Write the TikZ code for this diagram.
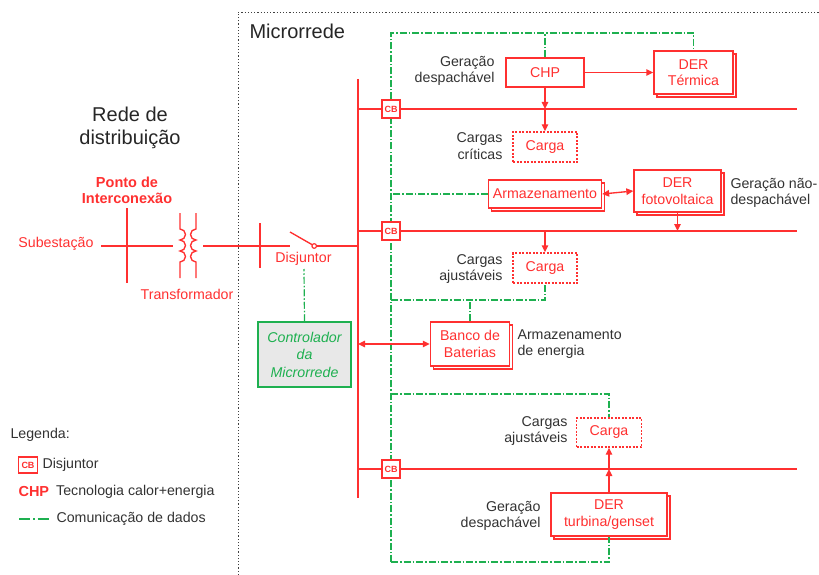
\documentclass[tikz,border=0pt]{standalone}
\usepackage{fontspec}
\setmainfont{Liberation Sans}
\usetikzlibrary{arrows.meta,shadows}
\definecolor{rd}{RGB}{255,48,48}
\definecolor{gn}{RGB}{30,176,80}
\definecolor{tx}{RGB}{50,50,50}
\definecolor{ctrlfill}{RGB}{232,232,232}
\newcommand{\nf}{\fontsize{14.2}{16.5}\selectfont}
\tikzset{
  every node/.style={font=\nf},
  wire/.style={draw=rd, line width=1.35pt},
  comm/.style={draw=gn, line width=1.2pt, dash pattern=on 7pt off 2pt on 1.5pt off 2pt},
  arr/.style={wire, -{Triangle[length=7pt,width=6.5pt]}},
  darr/.style={wire, {Triangle[length=7pt,width=6.5pt]}-{Triangle[length=7pt,width=6.5pt]}},
  redbox/.style={draw=rd, line width=1.35pt, fill=white, text=rd, align=center, inner sep=1pt},
  stackbox/.style={redbox, copy shadow={shadow xshift=3pt, shadow yshift=-3pt}},
  loadbox/.style={redbox, dash pattern=on 2pt off 1.5pt},
  cbbox/.style={draw=rd, line width=1.1pt, fill=white, text=rd, minimum width=18pt, minimum height=18pt, inner sep=0pt, font=\fontsize{9}{9}\bfseries\selectfont},
  ctrlbox/.style={draw=gn, line width=1.5pt, fill=ctrlfill, text=gn, align=center, inner sep=1pt, font=\fontsize{14.2}{17.5}\itshape\selectfont},
  lblr/.style={text=tx, align=right, anchor=east},
  lbll/.style={text=tx, align=left, anchor=west},
  redlbl/.style={text=rd, align=center},
}
\begin{document}
\begin{tikzpicture}[x=1pt,y=-1pt]
\useasboundingbox (0,0) rectangle (819,575);

% boundary of the microgrid
\draw[black!75, line width=0.9pt, dash pattern=on 1.2pt off 2pt] (238,575) -- (238,12) -- (819,12);

% titles
\node[align=center, text=black!85, font=\fontsize{20}{23}\selectfont] (rede) at (130,127.5) {Rede de\\distribuição};
\node[anchor=west, text=black!85, font=\fontsize{20}{23}\selectfont] (micro) at (246,31) {Microrrede};

% ---------------- boxes ----------------
\node[redbox, minimum width=78pt, minimum height=29pt] (chp) at (545,72.5) {CHP};
\node[stackbox, minimum width=79pt, minimum height=43pt] (dert) at (693.5,72.5) {DER\\Térmica};
\node[loadbox, minimum width=64pt, minimum height=30pt] (c1) at (545,147) {Carga};
\node[stackbox, minimum width=113pt, minimum height=28pt] (arm) at (545,194) {Armazenamento};
\node[stackbox, minimum width=87pt, minimum height=42pt] (pv) at (677.5,191) {DER\\fotovoltaica};
\node[loadbox, minimum width=64pt, minimum height=30pt] (c2) at (545,268) {Carga};
\node[stackbox, minimum width=79pt, minimum height=44pt] (bat) at (470,344) {Banco de\\Baterias};
\node[loadbox, minimum width=65pt, minimum height=29pt] (c3) at (609,432.5) {Carga};
\node[stackbox, minimum width=116pt, minimum height=43pt] (tur) at (609,514.5) {DER\\turbina/genset};
\node[ctrlbox, minimum width=93pt, minimum height=65pt] (ctl) at (304.5,354.5) {Controlador\\da\\Microrrede};

% ---------------- coordinates ----------------
\coordinate (gtop) at (391,33);
\coordinate (gbot) at (391,562);
\coordinate (g2) at (391,300);
\coordinate (g3) at (391,394);
\coordinate (disjc) at (304,269);
\coordinate (bustop) at (358,79);
\coordinate (busbot) at (358,498);
\coordinate (busmid) at (358,344);
\coordinate (f1l) at (358,109); \coordinate (f1r) at (797,109);
\coordinate (f2l) at (358,231); \coordinate (f2r) at (797,231);
\coordinate (f3l) at (358,469); \coordinate (f3r) at (797,469);
\coordinate (f1a) at (545,109);
\coordinate (f2a) at (545,231);
\coordinate (f3a) at (609,469);

% ---------------- communication ----------------
\draw[comm] (gbot) -- (gtop) -| (dert.north);
\draw[comm] (chp.north) -- (chp.north |- gtop);
\draw[comm] (arm.west) -- (arm.west -| gtop);
\draw[comm] (g2) -| (c2.south);
\draw[comm] (bat.north) -- (bat.north |- g2);
\draw[comm] (g3) -| (c3.north);
\draw[comm] (gbot) -| (tur.south);
\draw[comm] (ctl.north) -- (disjc);

% ---------------- power ----------------
\draw[wire] (bustop) -- (busbot);
\draw[wire] (f1l) -- (f1r);
\draw[wire] (f2l) -- (f2r);
\draw[wire] (f3l) -- (f3r);
\node[cbbox] (cb1) at (391,109) {CB};
\node[cbbox] (cb2) at (391,231) {CB};
\node[cbbox] (cb3) at (391,469) {CB};

\draw[arr] (chp.east) -- (dert.west);
\draw[arr] (chp.south) -- (f1a);
\draw[arr] (f1a) -- (c1.north);
\draw[darr] (arm.east) -- (pv.west);
\draw[arr] (pv.south) -- (pv.south |- f2r);
\draw[arr] (f2a) -- (c2.north);
\draw[darr] (busmid) -- (bat.west);
\draw[arr] (tur.north) -- (f3a);
\draw[arr] (f3a) -- (c3.south);

% ---------------- interconnection ----------------
\node[text=rd, anchor=east] (subl) at (97,244) {Subestação};
\node[redlbl, font=\fontsize{14.5}{16}\bfseries\selectfont] (pci) at (127,190) {Ponto de\\Interconexão};
\node[redlbl] (trl) at (187,294) {Transformador};
\node[redlbl] (djl) at (303.5,259) {Disjuntor};

\draw[wire] (101,246) -- (173,246);
\draw[wire] (127,208) -- (127,283);
% transformer
\draw[wire] (180,213) -- (180,229)
   arc[start angle=-90, end angle=90, radius=5.5]
   arc[start angle=-90, end angle=90, radius=5.5]
   arc[start angle=-90, end angle=90, radius=5.5] -- (180,278);
\draw[wire] (196,213) -- (196,229)
   arc[start angle=-90, end angle=-270, radius=5.5]
   arc[start angle=-90, end angle=-270, radius=5.5]
   arc[start angle=-90, end angle=-270, radius=5.5] -- (196,278);
\draw[wire] (203,246) -- (290,246);
\draw[wire] (260,223) -- (260,268);
% switch
\draw[wire] (290,232) -- (312,244.6);
\draw[draw=rd, line width=1.2pt] (314.2,246) circle[radius=2.3];
\draw[wire] (316.5,246) -- (busmid |- 0,246);

% ---------------- labels ----------------
\node[lblr] (l1) at (498,71) {Geração\\despachável};
\node[lblr] (l2) at (506,146) {Cargas\\críticas};
\node[lbll] (l3) at (727,193) {Geração não-\\despachável};
\node[lblr] (l4) at (506,269) {Cargas\\ajustáveis};
\node[lbll] (l5) at (514,344) {Armazenamento\\de energia};
\node[lblr] (l6) at (571,431) {Cargas\\ajustáveis};
\node[lblr] (l7) at (544,516) {Geração\\despachável};

% ---------------- legend ----------------
\node[text=tx, anchor=west] (leg) at (7,435) {Legenda:};
\node[cbbox, minimum width=19pt, minimum height=16pt] (lcb) at (28,465) {CB};
\node[text=tx, anchor=west] (lcbt) at (39,465) {Disjuntor};
\node[anchor=west, text=rd, font=\fontsize{14.5}{16}\bfseries\selectfont] (lchp) at (15,492) {CHP};
\node[text=tx, anchor=west] (lchpt) at (lchp.east) {Tecnologia calor+energia};
\coordinate (lca) at (19,519);
\coordinate (lcb2) at (49,519);
\draw[draw=gn, line width=1.2pt, dash pattern=on 11pt off 3pt on 1.5pt off 3pt] (lca) -- (lcb2);
\node[text=tx, anchor=west] (lcom) at (53,519) {Comunicação de dados};
\end{tikzpicture}
\end{document}
